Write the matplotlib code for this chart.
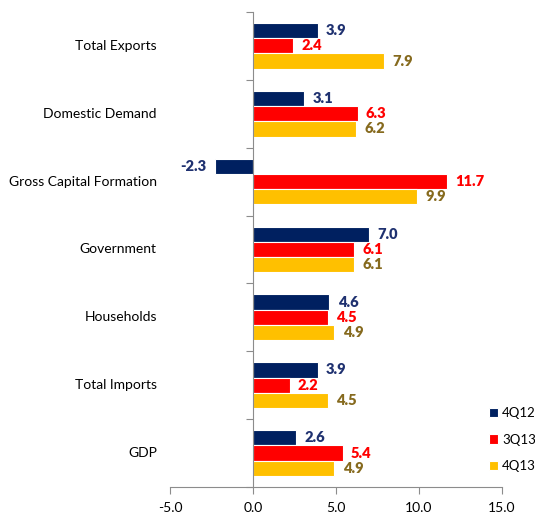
import numpy as np
import matplotlib
matplotlib.use("Agg")
from matplotlib import pyplot as plt

# categories listed top to bottom
categories = ["Total Exports", "Domestic Demand", "Gross Capital Formation",
              "Government", "Households", "Total Imports", "GDP"]
series_names = ["4Q12", "3Q13", "4Q13"]
q4_12 = [3.9, 3.1, -2.3, 7.0, 4.6, 3.9, 2.6]
q3_13 = [2.4, 6.3, 11.7, 6.1, 4.5, 2.2, 5.4]
q4_13 = [7.9, 6.2, 9.9, 6.1, 4.9, 4.5, 4.9]
xticks = [-5, 0, 5, 10, 15]

bar_colors = ["#002060", "#FF0000", "#FFC000"]
label_colors = ["#1F3170", "#FF0000", "#866A1E"]

plt.rcParams["font.family"] = ["Lato", "DejaVu Sans"]

fig = plt.figure(figsize=(5.35, 5.17), dpi=100)
ax = fig.add_axes([0.318, 0.058, 0.620, 0.919])

n = len(categories)
y = np.arange(n)  # 0 at top after inversion
h = 0.225
offsets = [-h, 0, h]
for vals, off, c, lc, name in zip([q4_12, q3_13, q4_13], offsets, bar_colors,
                                  label_colors, series_names):
    bars = ax.barh(y + off, vals, height=h, color=c, edgecolor="white",
                   linewidth=0.8, label=name)
    for b, v in zip(bars, vals):
        yy = b.get_y() + b.get_height() / 2
        if v >= 0:
            ax.text(v + 0.5, yy, f"{v:.1f}", ha="left", va="center",
                    color=lc, fontsize=10.5, fontweight="heavy")
        else:
            ax.text(v - 0.5, yy, f"{v:.1f}", ha="right", va="center",
                    color=lc, fontsize=10.5, fontweight="heavy")

ax.set_xlim(-5, 15)
ax.set_ylim(n - 0.5, -0.5)
ax.set_xticks(xticks)
ax.set_xticklabels([f"{t:.1f}" for t in xticks], fontsize=10)

# vertical axis sits at zero, ticks mark the category boundaries
ax.spines["left"].set_position(("data", 0))
ax.spines["left"].set_color("#8C8C8C")
ax.spines["bottom"].set_color("#8C8C8C")
ax.spines["top"].set_visible(False)
ax.spines["right"].set_visible(False)
ax.set_yticks(np.arange(-0.5, n, 1.0))
ax.set_yticklabels([])
ax.tick_params(axis="y", length=5, color="#8C8C8C")
ax.tick_params(axis="x", length=5, color="#8C8C8C", direction="out", pad=6)

for i, cat in enumerate(categories):
    ax.text(-0.04, i, cat, transform=ax.get_yaxis_transform(), ha="right",
            va="center", fontsize=10)

ax.legend(loc="lower left", bbox_to_anchor=(0.945, 0.02), frameon=False,
          handlelength=0.7, handleheight=0.7, handletextpad=0.3,
          labelspacing=1.1, fontsize=9.5, borderaxespad=0)

fig.savefig("out.png", dpi=100)
